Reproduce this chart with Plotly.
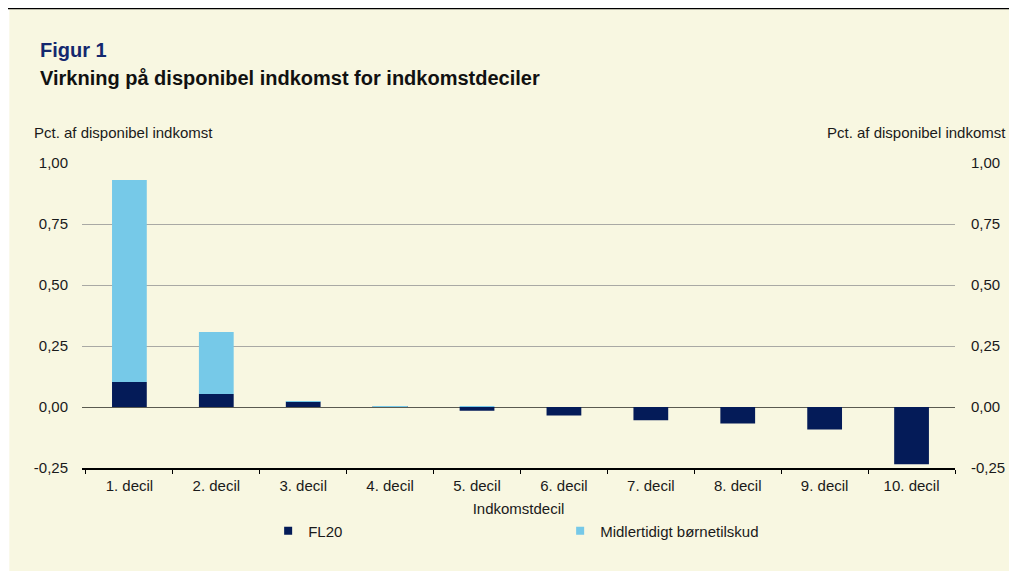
import plotly.graph_objects as go

categories = ["1. decil", "2. decil", "3. decil", "4. decil", "5. decil",
              "6. decil", "7. decil", "8. decil", "9. decil", "10. decil"]
fl20 = [0.102, 0.053, 0.022, 0.001, -0.015, -0.035, -0.054, -0.068, -0.092, -0.235]
boernetilskud = [0.828, 0.254, 0.002, 0.002, 0.001, 0.0, 0.0, 0.0, 0.0, 0.0]
tickvals = [-0.25, 0, 0.25, 0.5, 0.75, 1.0]
ticktext = ["-0,25", "0,00", "0,25", "0,50", "0,75", "1,00"]

navy = "#041B58"
light = "#76C9E8"
cream = "#F8F7E1"
font_family = "Liberation Sans, Arial, sans-serif"

W, H = 1009, 563
L, R, T, B = 74, 58, 155, 103
PW, PH = W - L - R, H - T - B


def px(fx):
    return (fx - L) / PW


def py(fy):
    return (H - B - fy) / PH


fig = go.Figure()
fig.add_trace(go.Bar(x=categories, y=fl20, name="FL20", marker=dict(color=navy, line=dict(width=0)),
                     showlegend=False))
fig.add_trace(go.Bar(x=categories, y=boernetilskud, name="Midlertidigt børnetilskud",
                     marker=dict(color=light, line=dict(width=0)), showlegend=False))
# legend entries
fig.add_trace(go.Scatter(x=[None], y=[None], mode="markers", name="FL20",
                         marker=dict(symbol="square", size=8, color=navy)))
fig.add_trace(go.Scatter(x=[None], y=[None], mode="markers", name="Midlertidigt børnetilskud",
                         marker=dict(symbol="square", size=8, color=light)))
# right axis carrier
fig.add_trace(go.Scatter(x=[categories[0]], y=[None], yaxis="y2", showlegend=False, hoverinfo="skip"))

fig.update_layout(
    width=W, height=H,
    margin=dict(l=L, r=R, t=T, b=B),
    paper_bgcolor=cream, plot_bgcolor=cream,
    barmode="relative", bargap=0.6,
    font=dict(family=font_family, size=15, color="#1a1a1a"),
    xaxis=dict(
        title=dict(text="Indkomstdecil", font=dict(size=15), standoff=11),
        showline=True, linecolor="#000000", linewidth=1.5,
        ticks="outside", ticklen=4, tickcolor="#000000", tickson="boundaries",
        showgrid=False, zeroline=False, anchor="y",
        ticklabelstandoff=3,
        tickfont=dict(size=15),
    ),
    yaxis=dict(
        range=[-0.25, 1.0], tickvals=tickvals, ticktext=ticktext,
        showgrid=True, gridcolor="#A9A9A4", gridwidth=1,
        zeroline=True, zerolinecolor="#5A5A50", zerolinewidth=1,
        showline=False, ticks="", ticklabelstandoff=13,
        tickfont=dict(size=15),
    ),
    yaxis2=dict(
        range=[-0.25, 1.0], tickvals=tickvals, ticktext=ticktext,
        overlaying="y", side="right", showgrid=False, zeroline=False,
        showline=False, ticks="", ticklabelstandoff=15,
        tickfont=dict(size=15),
    ),
    legend=dict(orientation="h", x=px(261), xanchor="left", y=py(523), yanchor="middle",
                yref="paper", entrywidth=247, entrywidthmode="pixels",
                bgcolor="rgba(0,0,0,0)", font=dict(size=15), itemwidth=30),
    showlegend=True,
    annotations=[
        dict(text="<b>Figur 1</b>", xref="paper", yref="paper", x=px(30), y=py(42),
             xanchor="left", yanchor="middle", showarrow=False,
             font=dict(size=20, color="#14286E")),
        dict(text="<b>Virkning på disponibel indkomst for indkomstdeciler</b>", xref="paper", yref="paper",
             x=px(30), y=py(70), xanchor="left", yanchor="middle", showarrow=False,
             font=dict(size=20, color="#111111")),
        dict(text="Pct. af disponibel indkomst", xref="paper", yref="paper", x=px(24), y=py(125),
             xanchor="left", yanchor="middle", showarrow=False, font=dict(size=15)),
        dict(text="Pct. af disponibel indkomst", xref="paper", yref="paper", x=px(1004), y=py(125),
             xanchor="right", yanchor="middle", showarrow=False, font=dict(size=15)),
    ],
    shapes=[
        dict(type="rect", xref="paper", yref="paper", x0=px(-10), x1=px(1), y0=py(H + 10), y1=py(-10),
             fillcolor="white", line=dict(width=0), layer="above"),
        dict(type="rect", xref="paper", yref="paper", x0=px(-10), x1=px(W + 10), y0=py(1), y1=py(-10),
             fillcolor="white", line=dict(width=0), layer="above"),
        dict(type="line", xref="paper", yref="paper", x0=px(-10), x1=px(W + 10), y0=py(0.6),
             y1=py(0.6), line=dict(color="#000000", width=1.2), layer="above"),
    ],
)

fig.write_html("out.html")
